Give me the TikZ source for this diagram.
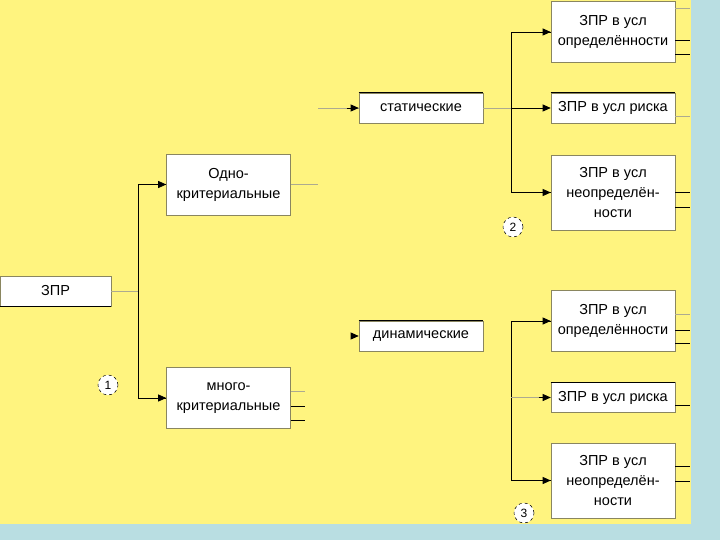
\documentclass[tikz,border=0pt]{standalone}
\usepackage{fontspec}
\setmainfont{Liberation Sans}
\usepackage{tikz}
\usetikzlibrary{arrows.meta,positioning,calc}
\definecolor{slideyellow}{HTML}{FFF47F}
\definecolor{slideblue}{HTML}{B9DEE2}
\definecolor{boxedge}{HTML}{8A8660}

\begin{document}
\begin{tikzpicture}[x=1pt,y=-1pt,
  box/.style={rectangle,draw=boxedge,line width=0.6pt,fill=white,minimum width=124pt,minimum height=30pt,align=center,inner sep=2pt,font=\fontsize{14.5}{20}\selectfont},
  tall/.style={box,minimum height=61pt},
  taller/.style={box,minimum height=75pt},
  arr/.style={draw=black,line width=0.8pt,-{Triangle[length=8pt,width=7pt]}},
  link/.style={draw=black,line width=0.8pt},
  faint/.style={draw=boxedge!70,line width=0.6pt},
  stub/.style={draw=black,line width=0.8pt},
  num/.style={circle,draw=black,dashed,line width=0.5pt,fill=white,minimum size=20pt,inner sep=0pt,font=\fontsize{12}{12}\selectfont}
]
\useasboundingbox (0,0) rectangle (720,540);
\fill[slideblue] (0,0) rectangle (720,540);
\fill[slideyellow] (0,0) rectangle (691,524);

% level 1
\node[box,minimum width=111pt] (zpr) at (55.5,291) {ЗПР};
\draw[link] (zpr.south west) -- (zpr.south east);
\coordinate (fork1) at (138,291);

% level 2
\node[tall] (odno) at (228.5,184.5) {Одно-\\критериальные};
\node[tall] (mnogo) at (228.5,398) {много-\\критериальные};
\node[num] (n1) at (108,385) {1};

\draw[faint] (zpr.east) -- (fork1);
\draw[link] (fork1) |- (odno.west);
\draw[arr] ($(fork1|-odno.west)+(20,0)$) -- (odno.west);
\draw[link] (fork1) |- (mnogo.west);
\draw[arr] ($(fork1|-mnogo.west)+(20,0)$) -- (mnogo.west);

% level 3
\node[box] (stat) at (421,108) {статические};
\node[box] (dyn) at (421,336) {динамические};
\draw[link] (stat.north west) -- (stat.north east);
\draw[link] (dyn.north west) -- (dyn.north east);
\coordinate (in-stat) at (318,108);
\coordinate (in-dyn) at (351,336);
\draw[faint] (in-stat) -- (stat.west);
\draw[arr] ($(stat.west)+(-12,0)$) -- (stat.west);
\draw[arr] (in-dyn) -- (dyn.west);
\draw[faint] (odno.east) -- ++(27,0);

% level 4, upper group
\node[tall] (opr1) at (613,32) {ЗПР в усл\\определённости};
\node[box] (risk1) at (613,108) {ЗПР в усл риска};
\node[taller] (neo1) at (613,192.5) {ЗПР в усл\\неопределён-\\ности};
\node[num] (n2) at (513,227) {2};
\draw[link] (risk1.north west) -- (risk1.north east);
\coordinate (fork2) at (511,108);
\draw[faint] (stat.east) -- (fork2);
\draw[arr] (fork2) -- (risk1.west);
\draw[link] (fork2) |- (opr1.west);
\draw[arr] ($(fork2|-opr1.west)+(20,0)$) -- (opr1.west);
\draw[link] (fork2) |- (neo1.west);
\draw[arr] ($(fork2|-neo1.west)+(20,0)$) -- (neo1.west);

% level 4, lower group
\node[tall] (opr2) at (613,321) {ЗПР в усл\\определённости};
\node[box] (risk2) at (613,397.5) {ЗПР в усл риска};
\node[taller] (neo2) at (613,480.5) {ЗПР в усл\\неопределён-\\ности};
\node[num] (n3) at (524,513) {3};
\draw[link] (risk2.north west) -- (risk2.north east);
\coordinate (fork3) at (511,397.5);
\draw[link] (fork3) |- (opr2.west);
\draw[arr] ($(fork3|-opr2.west)+(20,0)$) -- (opr2.west);
\draw[link] (fork3) |- (neo2.west);
\draw[arr] ($(fork3|-neo2.west)+(20,0)$) -- (neo2.west);
\draw[faint] (fork3) -- (risk2.west);
\draw[arr] ($(risk2.west)+(-12,0)$) -- (risk2.west);

% stubs on the right (yshift is upward)
\draw[faint] ([yshift=24pt]opr1.east) -- ++(15,0);
\draw[stub] ([yshift=-8pt]opr1.east) -- ++(15,0);
\draw[stub] ([yshift=-22pt]opr1.east) -- ++(15,0);
\draw[faint] ([yshift=-8pt]risk1.east) -- ++(15,0);
\draw[stub] (neo1.east) -- ++(15,0);
\draw[stub] ([yshift=-14.5pt]neo1.east) -- ++(15,0);
\draw[faint] ([yshift=7pt]opr2.east) -- ++(15,0);
\draw[stub] ([yshift=-9pt]opr2.east) -- ++(15,0);
\draw[stub] ([yshift=-22pt]opr2.east) -- ++(15,0);
\draw[stub] ([yshift=-7.5pt]risk2.east) -- ++(15,0);
\draw[stub] ([yshift=14.5pt]neo2.east) -- ++(15,0);
\draw[stub] ([yshift=-0.5pt]neo2.east) -- ++(15,0);
\draw[faint] ([yshift=7pt]mnogo.east) -- ++(14,0);
\draw[stub] ([yshift=-8pt]mnogo.east) -- ++(14,0);
\draw[stub] ([yshift=-22pt]mnogo.east) -- ++(14,0);
\end{tikzpicture}
\end{document}
